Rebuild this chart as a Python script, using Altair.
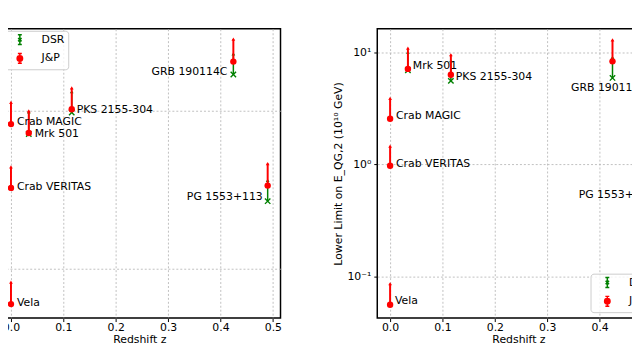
import altair as alt
import pandas as pd

# ---------------- data ----------------
sources = ["Vela", "Crab VERITAS", "Crab MAGIC", "Mrk 501", "PKS 2155-304",
           "GRB 190114C", "PG 1553+113"]
redshift = [0.0, 0.0, 0.0, 0.034, 0.116, 0.4245, 0.49]

# left panel (linear case) lower limits and upper ends of the arrows
jp1_low = [0.0596, 0.324, 0.821, 0.721, 1.019, 2.04, 0.335]
jp1_up = [0.082, 0.44, 1.127, 0.994, 1.39, 2.83, 0.462]
dsr1_low = [None, None, None, 0.71, 0.972, 1.69, 0.267]
dsr1_up = [None, None, None, 0.98, 1.315, 2.28, 0.361]

# right panel (quadratic case), units of 1e10 GeV
jp2_low = [0.0556, 0.97, 2.55, 7.1, 6.3, 8.3, 0.6]
jp2_up = [0.0857, 1.45, 3.87, 10.9, 9.5, 12.9, 0.9]
dsr2_low = [None, None, None, 6.9, 5.55, 5.9, 0.45]
dsr2_up = [None, None, None, 10.0, 8.4, 9.0, 0.7]

series_names = ["DSR", "J&P"]
x_ticks = [0.0, 0.1, 0.2, 0.3, 0.4, 0.5]

# ---------------- style ----------------
GREEN = "#008000"
RED = "#ff0000"
FONT = "DejaVu Sans"
X_PATH = "M-1,-1L1,1M-1,1L1,-1"
DSR_GLYPH = ("M0,-1L0,1M-0.4,-1L0.4,-1M-0.4,1L0.4,1"
             "M-0.35,-0.35L0.35,0.35M-0.35,0.35L0.35,-0.35")
JP_GLYPH = ("M0,-1L0,1M-0.4,-1L0.4,-1M-0.4,1L0.4,1"
            "M0.55,0A0.55,0.55 0 1,1 -0.55,0A0.55,0.55 0 1,1 0.55,0Z")

left_offsets = {
    "Vela": ("left", 6, -1),
    "Crab VERITAS": ("left", 6, -1),
    "Crab MAGIC": ("left", 6, -2),
    "Mrk 501": ("left", 6, 1),
    "PKS 2155-304": ("left", 5, 1),
    "GRB 190114C": ("right", -6, 11),
    "PG 1553+113": ("right", -5, 12),
}
right_offsets = {
    "Vela": ("left", 5, -4),
    "Crab VERITAS": ("left", 6, -2),
    "Crab MAGIC": ("left", 6, -3),
    "Mrk 501": ("left", 5, -3),
    "PKS 2155-304": ("left", 5, 2),
    "GRB 190114C": ("left", -42, 27),
    "PG 1553+113": ("left", -69, 6),
}


def long_table(jp_low, jp_up, dsr_low, dsr_up):
    rows = []
    for i, s in enumerate(sources):
        if dsr_low[i] is not None:
            rows.append(dict(source=s, z=redshift[i], series="DSR",
                             low=dsr_low[i], up=dsr_up[i]))
    for i, s in enumerate(sources):
        rows.append(dict(source=s, z=redshift[i], series="J&P",
                         low=jp_low[i], up=jp_up[i]))
    return pd.DataFrame(rows)


def panel(df, ydomain, yaxis, offsets, legend_xy):
    xs = alt.X("z:Q", scale=alt.Scale(domain=[-0.0245, 0.5145], nice=False, zero=False),
               axis=alt.Axis(values=x_ticks, format=".1f", title="Redshift z"))
    ysc = alt.Scale(type="log", domain=ydomain, nice=False)
    y_low = alt.Y("low:Q", scale=ysc, axis=yaxis)
    y_up = alt.Y("up:Q", scale=ysc, axis=yaxis)
    leg = alt.Legend(title=None, orient="none", legendX=legend_xy[0], legendY=legend_xy[1],
                     padding=3, cornerRadius=3, strokeColor="#cccccc",
                     fillColor="rgba(255,255,255,0.8)", labelFontSize=11,
                     labelFont=FONT, labelColor="black", rowPadding=3,
                     symbolOffset=8, labelOffset=16, symbolSize=100,
                     symbolStrokeWidth=1.5, symbolOpacity=1)
    base = alt.Chart(df).encode(x=xs)
    layers = []
    # invisible layer that only carries the legend (errorbar-like glyphs)
    layers.append(base.mark_point(size=0, strokeWidth=1.5).encode(
        y=y_low,
        color=alt.Color("series:N", scale=alt.Scale(domain=series_names, range=[GREEN, RED]), legend=leg),
        fill=alt.Fill("series:N", scale=alt.Scale(domain=series_names, range=[GREEN, RED]), legend=leg),
        shape=alt.Shape("series:N", scale=alt.Scale(domain=series_names, range=[DSR_GLYPH, JP_GLYPH]), legend=leg),
    ))
    styles = [("DSR", GREEN, 1.5, X_PATH, False, 30), ("J&P", RED, 2, "circle", True, 42)]
    for name, col, width, shape, filled, size in styles:
        sub = base.transform_filter(alt.datum.series == name)
        layers.append(sub.mark_rule(color=col, strokeWidth=width).encode(y=y_low, y2="up:Q"))
        layers.append(sub.mark_point(shape="triangle-up", filled=True, size=14,
                                     color=col, opacity=1).encode(y=y_up))
    for name, col, width, shape, filled, size in styles:
        sub = base.transform_filter(alt.datum.series == name)
        layers.append(sub.mark_point(shape=shape, filled=filled, size=size, color=col,
                                     opacity=1, strokeWidth=1.4).encode(y=y_low))
    jp = base.transform_filter(alt.datum.series == "J&P")
    for src, (al, dx, dy) in offsets.items():
        layers.append(
            jp.transform_filter(alt.datum.source == src)
            .mark_text(align=al, dx=dx, dy=dy, fontSize=11, font=FONT, color="black", baseline="middle")
            .encode(y=y_low, text="source:N")
        )
    return alt.layer(*layers).properties(width=286, height=293)


left_axis = alt.Axis(values=[0.1, 1], labels=False, ticks=False, title=None, grid=True)
right_axis = alt.Axis(values=[0.1, 1, 10], title="Lower Limit on E_QG,2 (10¹⁰ GeV)",
                      labelExpr="datum.value >= 10 ? '10¹' : (datum.value >= 1 ? '10⁰' : '10⁻¹')",
                      labelPadding=3, titlePadding=3)

left = panel(long_table(jp1_low, jp1_up, dsr1_low, dsr1_up), [0.0486, 3.29], left_axis, left_offsets, (5, 2))
right = panel(long_table(jp2_low, jp2_up, dsr2_low, dsr2_up), [0.0423, 16.2], right_axis, right_offsets, (216, 248))

chart = (
    alt.hconcat(left, right, spacing=50)
    .resolve_scale(color="independent", fill="independent", shape="independent")
    .resolve_legend(color="independent", fill="independent", shape="independent")
    .properties(autosize=alt.AutoSizeParams(type="none"),
                padding={"left": -10, "top": 17, "right": 642, "bottom": 325})
    .configure_view(stroke="black", strokeWidth=1.5)
    .configure_axis(labelFont=FONT, labelFontSize=11, labelColor="black",
                    titleFont=FONT, titleFontSize=11, titleFontWeight="normal", titleColor="black",
                    tickColor="black", tickSize=3.5, domain=False,
                    gridColor="#b0b0b0", gridDash=[2, 2], gridWidth=0.8,
                    labelPadding=0, titlePadding=1)
)

chart.save("out.html", embed_options={"renderer": "svg", "actions": False})
